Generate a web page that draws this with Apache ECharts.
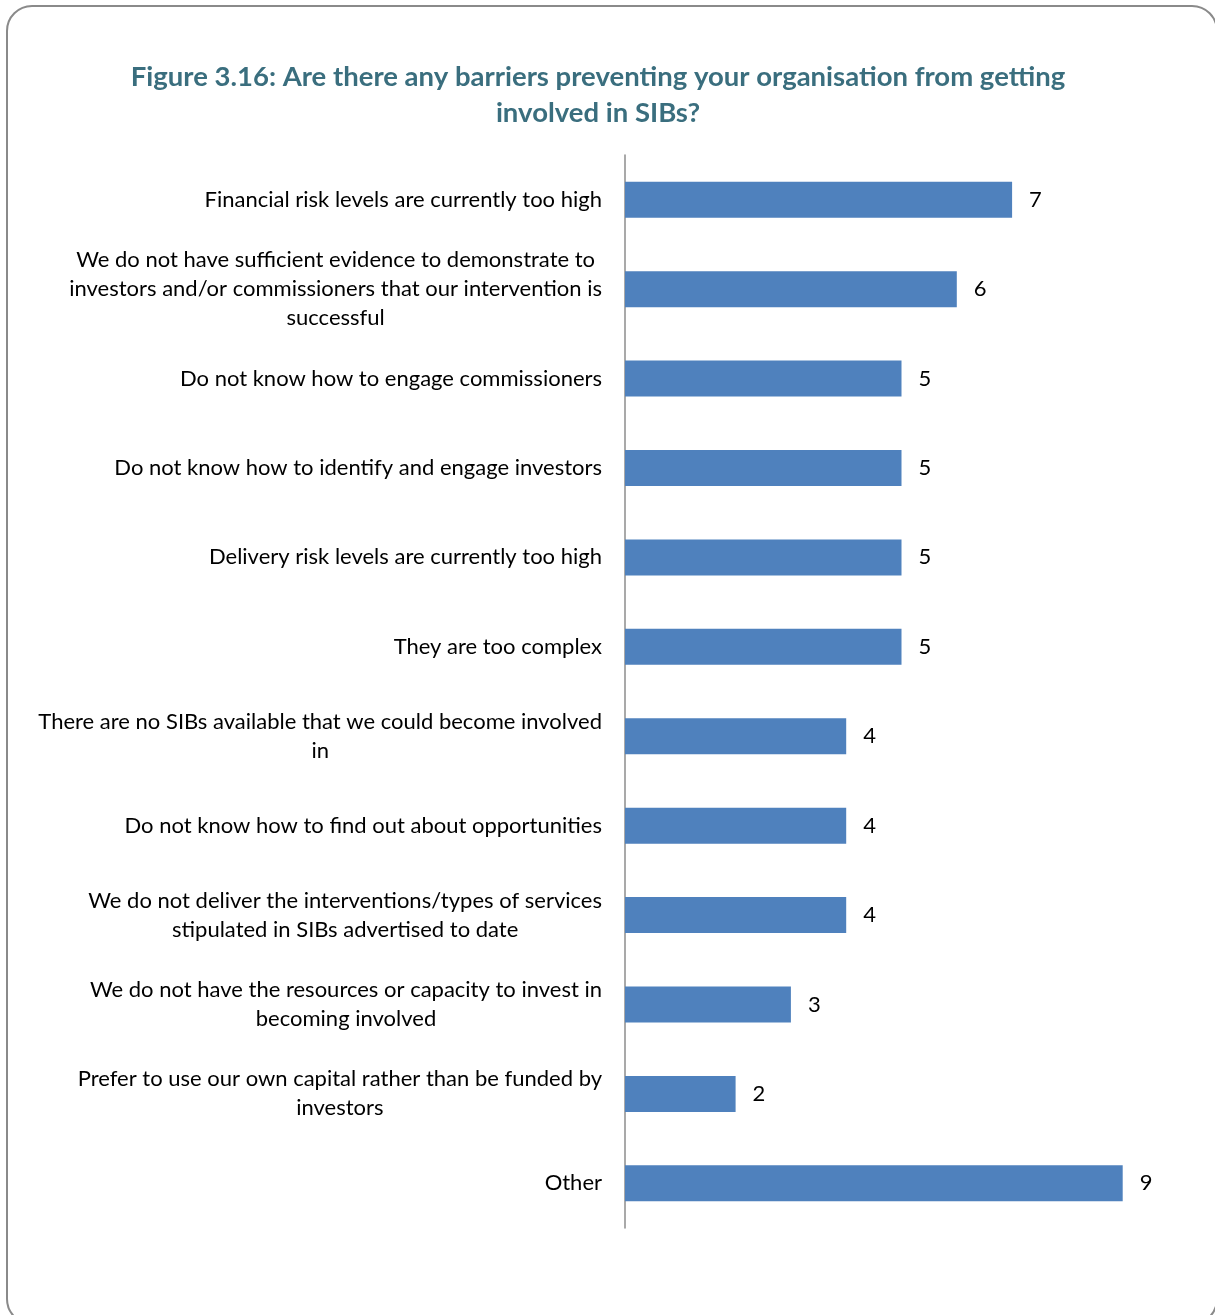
<!DOCTYPE html>
<html>
<head>
<meta charset="utf-8">
<title>Figure 3.16</title>
<script src="https://cdn.jsdelivr.net/npm/echarts@6/dist/echarts.min.js"></script>
<style>
  html, body { margin: 0; padding: 0; background: #ffffff; }
  #chart { width: 1215px; height: 1315px; }
</style>
</head>
<body>
<div id="chart"></div>
<script>
// Survey responses: barriers to getting involved in SIBs
const categories = [
  'Financial risk levels are currently too high',
  'We do not have sufficient evidence to demonstrate to\ninvestors and/or commissioners that our intervention is\nsuccessful',
  'Do not know how to engage commissioners',
  'Do not know how to identify and engage investors',
  'Delivery risk levels are currently too high',
  'They are too complex',
  'There are no SIBs available that we could become involved\nin',
  'Do not know how to find out about opportunities',
  'We do not deliver the interventions/types of services\nstipulated in SIBs advertised to date',
  'We do not have the resources or capacity to invest in\nbecoming involved',
  'Prefer to use our own capital rather than be funded by\ninvestors',
  'Other'
];
const counts = [7, 6, 5, 5, 5, 5, 4, 4, 4, 3, 2, 9];

const titleText = 'Figure 3.16: Are there any barriers preventing your organisation from getting\ninvolved in SIBs?';

const FONT = 'Lato, "Open Sans", sans-serif';

const chart = echarts.init(document.getElementById('chart'), null, { renderer: 'canvas' });

chart.setOption({
  backgroundColor: '#ffffff',
  animation: false,
  title: {
    text: titleText,
    left: 593,
    top: 54,
    textAlign: 'center',
    textStyle: {
      fontFamily: FONT,
      fontSize: 27.5,
      fontWeight: 'bold',
      color: '#3A6E7E',
      lineHeight: 36
    }
  },
  graphic: [{
    type: 'rect',
    shape: { x: 7, y: 6, width: 1210, height: 1318, r: 25 },
    style: { fill: 'none', stroke: '#8a8a8a', lineWidth: 2 },
    silent: true,
    z: -1
  }],
  grid: { left: 625, right: 37, top: 155, bottom: 87 },
  xAxis: {
    type: 'value',
    min: 0,
    max: 10,
    show: false
  },
  yAxis: {
    type: 'category',
    inverse: true,
    data: categories,
    axisLine: { show: true, lineStyle: { color: '#8c8c8c', width: 1.5 } },
    axisTick: { show: false },
    splitLine: { show: false },
    axisLabel: {
      margin: 23,
      formatter: function (v) {
        return v.split('\n').map(function (line) { return '{c|' + line + '}'; }).join('\n');
      },
      rich: {
        c: {
          align: 'center',
          fontFamily: FONT,
          fontSize: 22,
          lineHeight: 29,
          color: '#000000'
        }
      }
    }
  },
  series: [{
    type: 'bar',
    data: counts,
    barWidth: 36,
    itemStyle: { color: '#4F81BD' },
    label: {
      show: true,
      position: 'right',
      distance: 17,
      fontFamily: FONT,
      fontSize: 22,
      color: '#000000'
    }
  }]
});
</script>
</body>
</html>
